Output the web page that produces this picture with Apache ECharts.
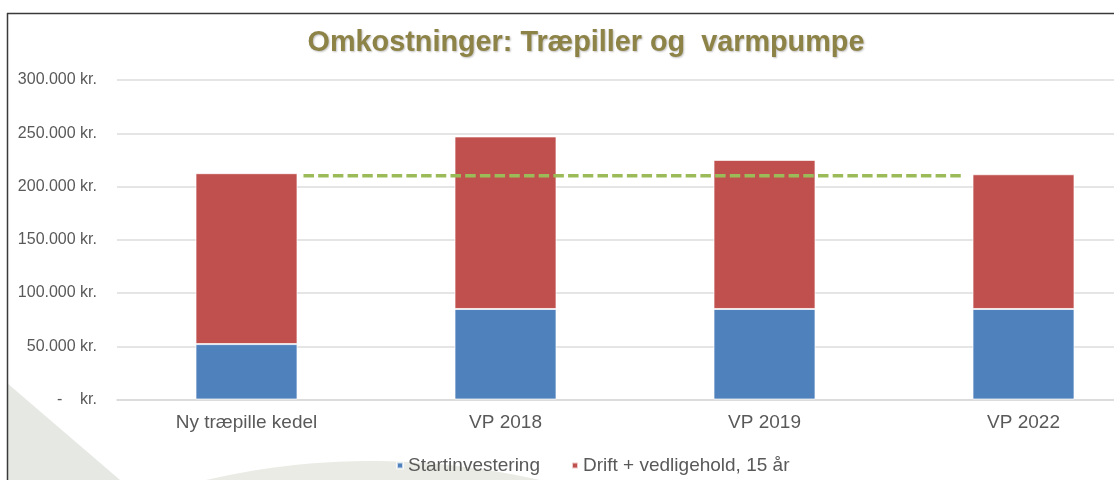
<!DOCTYPE html>
<html>
<head>
<meta charset="utf-8">
<script src="https://cdn.jsdelivr.net/npm/echarts@6/dist/echarts.min.js"></script>
<style>
html,body{margin:0;padding:0;background:#fff;}
#chart{width:1114px;height:480px;}
</style>
</head>
<body>
<div id="chart"></div>
<script>
const categories = ['Ny træpille kedel', 'VP 2018', 'VP 2019', 'VP 2022'];
const startinvestering = [52000, 85000, 85000, 85000];
const drift = [160500, 162000, 140000, 126500];
const refLineX = [0.22, 2.77];
const refLineY = [210000, 210000];
const seriesNames = ['Startinvestering', 'Drift + vedligehold, 15 år'];
const titleText = 'Omkostninger: Træpiller og  varmpumpe';

function fmt(v) {
  if (v === 0) return '-    kr.';
  return String(v).replace(/\B(?=(\d{3})+(?!\d))/g, '.') + ' kr.';
}

// decorative background blob (quadratic curve approximated by points)
function quadPoints(p0, p1, p2, n) {
  const pts = [];
  for (let i = 0; i <= n; i++) {
    const t = i / n, u = 1 - t;
    pts.push([u*u*p0[0] + 2*u*t*p1[0] + t*t*p2[0], u*u*p0[1] + 2*u*t*p1[1] + t*t*p2[1]]);
  }
  return pts;
}
const blobPts = quadPoints([206, 480], [370, 442], [540, 480], 40);

const chart = echarts.init(document.getElementById('chart'), null, {renderer: 'canvas'});
const FONT = '"Liberation Sans", Arial, sans-serif';

chart.setOption({
  backgroundColor: '#ffffff',
  animation: false,
  textStyle: {fontFamily: FONT},
  title: {
    text: titleText,
    left: 581,
    top: 24,
    textAlign: 'center',
    textStyle: {
      fontFamily: FONT,
      fontSize: 28.8,
      fontWeight: 'bold',
      color: '#8D8347',
      textShadowColor: 'rgba(0,0,0,0.25)',
      textShadowBlur: 2,
      textShadowOffsetX: 1,
      textShadowOffsetY: 1
    }
  },
  graphic: [
    {type: 'polygon', z: -10, silent: true,
     shape: {points: [[7, 383], [120, 480], [7, 480]]},
     style: {fill: '#e5e8e3'}},
    {type: 'polygon', z: -10, silent: true,
     shape: {points: blobPts},
     style: {fill: '#e9ebe4'}},
    {type: 'line', z: 100, silent: true,
     shape: {x1: 7, y1: 13.5, x2: 1114, y2: 13.5},
     style: {stroke: '#3a3a3a', lineWidth: 1.5}},
    {type: 'line', z: 100, silent: true,
     shape: {x1: 7.5, y1: 13, x2: 7.5, y2: 480},
     style: {stroke: '#3a3a3a', lineWidth: 1.5}}
  ],
  legend: {
    data: seriesNames,
    left: 391,
    top: 451,
    icon: 'rect',
    itemWidth: 6,
    itemHeight: 6,
    itemGap: 31,
    textStyle: {fontFamily: FONT, fontSize: 19, color: '#595959'}
  },
  grid: {left: 117, top: 80, width: 1036, height: 319.5, outerBoundsMode: 'none', containLabel: false},
  xAxis: [
    {
      type: 'category',
      data: categories,
      axisLine: {lineStyle: {color: '#d9d9d9', width: 1.5}},
      axisTick: {show: false},
      axisLabel: {fontFamily: FONT, fontSize: 19, color: '#595959', margin: 14}
    },
    {
      type: 'value',
      min: -0.5,
      max: 3.5,
      show: false
    }
  ],
  yAxis: {
    type: 'value',
    min: 0,
    max: 300000,
    interval: 50000,
    axisLine: {show: false},
    axisTick: {show: false},
    splitLine: {lineStyle: {color: '#dcdcdc', width: 1.5}},
    axisLabel: {fontFamily: FONT, fontSize: 16, color: '#595959', margin: 20, formatter: fmt}
  },
  series: [
    {
      name: seriesNames[0],
      type: 'bar',
      stack: 'total',
      data: startinvestering,
      barWidth: 102,
      itemStyle: {color: '#4F81BD', borderColor: 'rgba(255,255,255,0.7)', borderWidth: 1}
    },
    {
      name: seriesNames[1],
      type: 'bar',
      stack: 'total',
      data: drift,
      barWidth: 102,
      itemStyle: {color: '#C0504D', borderColor: 'rgba(255,255,255,0.7)', borderWidth: 1}
    },
    {
      name: 'ref',
      type: 'line',
      xAxisIndex: 1,
      data: refLineX.map((x, i) => [x, refLineY[i]]),
      symbol: 'none',
      z: 5,
      lineStyle: {color: '#9BBB59', width: 3.5, type: [10.5, 4.2]}
    }
  ]
});
</script>
</body>
</html>
